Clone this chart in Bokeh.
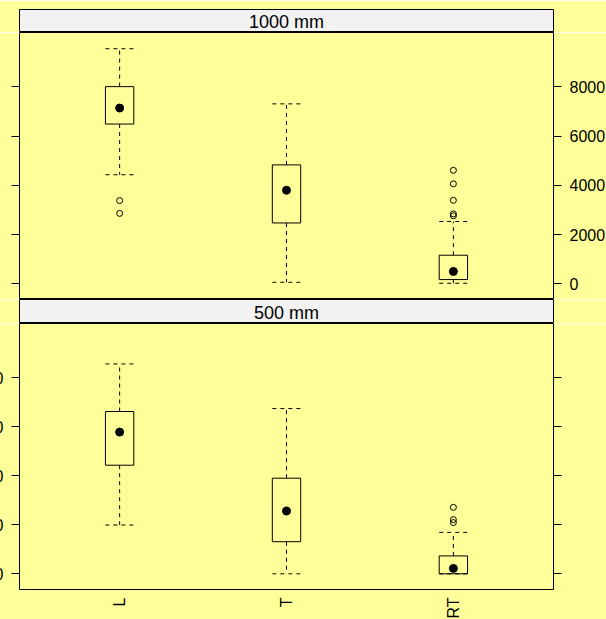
from math import pi

from bokeh.plotting import figure
from bokeh.layouts import column
from bokeh.models import (FactorRange, Range1d, LinearAxis, CategoricalAxis,
                          FixedTicker, ColumnDataSource)
from bokeh.transform import dodge
from bokeh.embed import file_html
from bokeh.resources import INLINE

# ---- data -------------------------------------------------------------
cats = ["L", "T", "RT"]

# 1000 mm panel: whisker ends, quartiles, medians
lo_1000 = [4430, 60, 20]
q1_1000 = [6490, 2470, 170]
med_1000 = [7140, 3800, 500]
q3_1000 = [8010, 4830, 1160]
hi_1000 = [9550, 7310, 2530]
out_1000_cat = ["L", "L", "RT", "RT", "RT", "RT", "RT"]
out_1000_val = [3380, 2860, 4610, 4060, 3390, 2840, 2760]

# 500 mm panel
lo_500 = [1990, 0, 0]
q1_500 = [4430, 1310, 0]
med_500 = [5780, 2560, 220]
q3_500 = [6620, 3900, 730]
hi_500 = [8560, 6740, 1690]
out_500_cat = ["RT", "RT", "RT"]
out_500_val = [2710, 2210, 2090]

y_ticks = [0, 2000, 4000, 6000, 8000]

# ---- style --------------------------------------------------------------
BG = "#ffff99"
STRIP = "#f2f2f2"
FONT = "Liberation Sans"
BOX_W = 0.17
FRAME_W = 534
LEFT = 59
RIGHT = 53


def make_strip(label, top_border):
    s = figure(x_range=Range1d(0, 1), y_range=Range1d(0, 1),
               frame_width=FRAME_W, frame_height=23 if top_border else 24,
               min_border_left=LEFT, min_border_right=RIGHT,
               min_border_top=9 if top_border else 0, min_border_bottom=0,
               x_axis_location=None, y_axis_location=None,
               toolbar_location=None, output_backend="svg")
    s.background_fill_color = STRIP
    s.border_fill_color = BG
    s.outline_line_color = "black"
    s.outline_line_width = 1
    s.grid.visible = False
    s.text(x=[0.5], y=[0.45], text=[label], text_align="center",
           text_baseline="middle", text_font_size="18px",
           text_font={"value": FONT}, text_color="black")
    return s


def y_axis(show_labels):
    ax = LinearAxis(ticker=FixedTicker(ticks=y_ticks))
    ax.axis_line_color = None
    ax.major_tick_in = 0
    ax.major_tick_out = 8
    ax.major_tick_line_color = "black"
    ax.minor_tick_line_color = None
    ax.major_label_standoff = 8
    ax.major_label_text_font = FONT
    ax.major_label_text_font_size = "16px"
    ax.major_label_text_color = "black" if show_labels else None
    return ax


def make_panel(lo, q1, med, q3, hi, o_cat, o_val, frame_h, bottom,
               labels_left):
    # 0.1 category units of padding on each side of the factors
    p = figure(x_range=FactorRange(*cats, range_padding=0.1,
                                   range_padding_units="absolute"),
               y_range=Range1d(-640, 10210),
               frame_width=FRAME_W, frame_height=frame_h,
               min_border_left=LEFT, min_border_right=RIGHT,
               min_border_top=0, min_border_bottom=30 if bottom else 0,
               x_axis_location=None, y_axis_location=None,
               toolbar_location=None, output_backend="svg")
    p.background_fill_color = BG
    p.border_fill_color = BG
    p.outline_line_color = "black"
    p.outline_line_width = 1
    p.grid.visible = False

    p.add_layout(y_axis(labels_left), "left")
    p.add_layout(y_axis(not labels_left), "right")

    if bottom:
        xa = CategoricalAxis()
        xa.axis_line_color = None
        xa.major_tick_in = 0
        xa.major_tick_out = 0
        xa.major_label_standoff = 8
        xa.major_label_orientation = pi / 2
        xa.major_label_text_font = FONT
        xa.major_label_text_font_size = "16px"
        xa.major_label_text_color = "black"
        p.add_layout(xa, "below")

    src = ColumnDataSource(dict(cat=cats, lo=lo, q1=q1, med=med, q3=q3, hi=hi))
    left = dodge("cat", -BOX_W / 2, range=p.x_range)
    right = dodge("cat", BOX_W / 2, range=p.x_range)

    # whiskers and their caps (dashed)
    dash = dict(line_color="black", line_width=1, line_dash="4 4")
    p.segment(x0="cat", y0="q3", x1="cat", y1="hi", source=src, **dash)
    p.segment(x0="cat", y0="q1", x1="cat", y1="lo", source=src, **dash)
    p.segment(x0=left, y0="hi", x1=right, y1="hi", source=src, **dash)
    p.segment(x0=left, y0="lo", x1=right, y1="lo", source=src, **dash)

    # box
    p.vbar(x="cat", bottom="q1", top="q3", width=BOX_W, source=src,
           fill_color=None, line_color="black", line_width=1)

    # median dot
    p.scatter(x="cat", y="med", source=src, size=8, marker="circle",
              fill_color="black", line_color="black")

    # outliers
    p.scatter(x=o_cat, y=o_val, size=6, marker="circle", fill_color=None,
              line_color="black", line_width=1)
    return p


strip_top = make_strip("1000 mm", True)
panel_top = make_panel(lo_1000, q1_1000, med_1000, q3_1000, hi_1000,
                       out_1000_cat, out_1000_val, 267, False, False)
strip_bot = make_strip("500 mm", False)
panel_bot = make_panel(lo_500, q1_500, med_500, q3_500, hi_500,
                       out_500_cat, out_500_val, 266, True, True)

layout = column(strip_top, panel_top, strip_bot, panel_bot,
                spacing=0, margin=(0, 0, 0, -40))

open("out.html", "w").write(file_html(layout, INLINE))
